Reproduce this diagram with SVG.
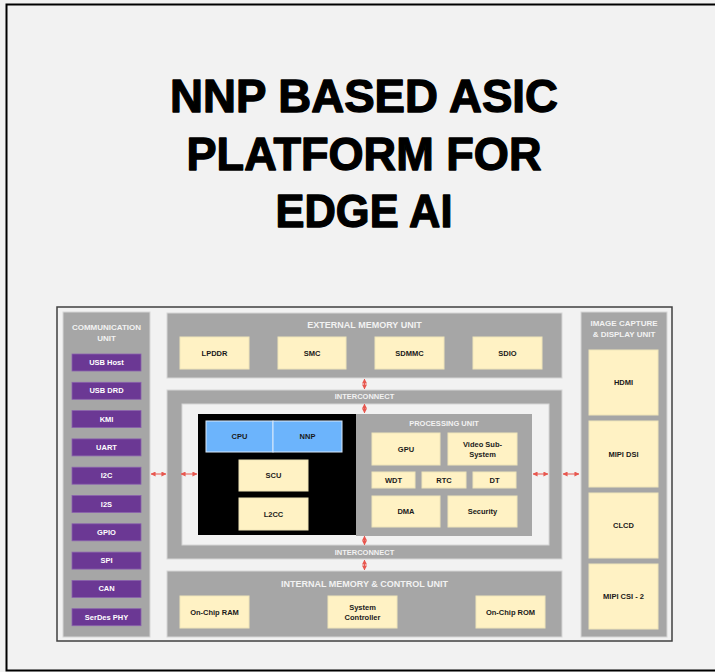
<svg xmlns="http://www.w3.org/2000/svg" width="715" height="672" viewBox="0 0 715 672">
<defs>
<marker id="ah" viewBox="0 0 6 6" refX="5.5" refY="3" markerWidth="5" markerHeight="5" orient="auto-start-reverse" markerUnits="userSpaceOnUse">
<path d="M0,0 L6,3 L0,6 Z" fill="#e8574f"/>
</marker>
</defs>
<style>
text{font-family:"Liberation Sans",Arial,sans-serif;font-weight:bold;text-anchor:middle;dominant-baseline:central}
.title{font-size:46px;fill:#000;stroke:#000;stroke-width:1.3;stroke-linejoin:round;dominant-baseline:alphabetic}
.panel{fill:#a6a6a6;stroke:#d6d6d6;stroke-width:1}
.lite{fill:#f2f2f2;stroke:#d6d6d6;stroke-width:1}
.ylw{fill:#fff2c4;stroke:#efe5b9;stroke-width:1}
.blu{fill:#6cb4fc;stroke:#d9e9fb;stroke-width:1}
.pur{fill:#6b3894;stroke:#8a62ad;stroke-width:0.8}
.plab{font-size:7.5px;fill:#f2f2f2;font-weight:bold}
.slab{font-size:8px;fill:#f2f2f2;font-weight:bold}
.hlab{font-size:9px;fill:#f2f2f2}
.blab{font-size:7.5px;fill:#1a1a1a}
.wlab{font-size:7.5px;fill:#ffffff}
.arr{stroke:#e8574f;stroke-width:1;fill:none;marker-start:url(#ah);marker-end:url(#ah)}
</style>
<rect x="0" y="0" width="715" height="672" fill="#f2f2f2"/>
<rect x="6.5" y="4.5" width="720" height="666" fill="#f2f2f2" stroke="#000" stroke-width="2"/>
<g id="title">
<text class="title" x="364" y="112" textLength="388" lengthAdjust="spacingAndGlyphs">NNP BASED ASIC</text>
<text class="title" x="364" y="170" textLength="355" lengthAdjust="spacingAndGlyphs">PLATFORM FOR</text>
<text class="title" x="364" y="227" textLength="177" lengthAdjust="spacingAndGlyphs">EDGE AI</text>
</g>
<rect x="57" y="307" width="615" height="334" fill="#f2f2f2" stroke="#404040" stroke-width="1.5"/>

<g id="communication-unit">
<rect class="panel" x="63" y="312" width="87" height="325"/>
<text class="slab" x="106.5" y="327">COMMUNICATION</text>
<text class="slab" x="106.5" y="338">UNIT</text>
<g id="usb-host"><rect class="pur" x="72" y="354" width="69" height="17"/><text class="wlab" x="106.5" y="362.5">USB Host</text></g>
<g id="usb-drd"><rect class="pur" x="72" y="382.3" width="69" height="17"/><text class="wlab" x="106.5" y="390.8">USB DRD</text></g>
<g id="kmi"><rect class="pur" x="72" y="410.6" width="69" height="17"/><text class="wlab" x="106.5" y="419.1">KMI</text></g>
<g id="uart"><rect class="pur" x="72" y="438.9" width="69" height="17"/><text class="wlab" x="106.5" y="447.4">UART</text></g>
<g id="i2c"><rect class="pur" x="72" y="467.2" width="69" height="17"/><text class="wlab" x="106.5" y="475.7">I2C</text></g>
<g id="i2s"><rect class="pur" x="72" y="495.5" width="69" height="17"/><text class="wlab" x="106.5" y="504">I2S</text></g>
<g id="gpio"><rect class="pur" x="72" y="523.8" width="69" height="17"/><text class="wlab" x="106.5" y="532.3">GPIO</text></g>
<g id="spi"><rect class="pur" x="72" y="552.1" width="69" height="17"/><text class="wlab" x="106.5" y="560.6">SPI</text></g>
<g id="can"><rect class="pur" x="72" y="580.4" width="69" height="17"/><text class="wlab" x="106.5" y="588.9">CAN</text></g>
<g id="serdes-phy"><rect class="pur" x="72" y="608.7" width="69" height="17"/><text class="wlab" x="106.5" y="617.2">SerDes PHY</text></g>
</g>

<g id="external-memory-unit">
<rect class="panel" x="167" y="313" width="395" height="65"/>
<text class="hlab" x="364.5" y="325">EXTERNAL MEMORY UNIT</text>
<g id="lpddr"><rect class="ylw" x="180" y="337" width="69" height="32"/><text class="blab" x="214.5" y="353">LPDDR</text></g>
<g id="smc"><rect class="ylw" x="278" y="337" width="68" height="32"/><text class="blab" x="312" y="353">SMC</text></g>
<g id="sdmmc"><rect class="ylw" x="375" y="337" width="69" height="32"/><text class="blab" x="409.5" y="353">SDMMC</text></g>
<g id="sdio"><rect class="ylw" x="473" y="337" width="69" height="32"/><text class="blab" x="507.5" y="353">SDIO</text></g>
</g>

<g id="interconnect">
<rect class="panel" x="167" y="390" width="395" height="169"/>
<text class="plab" x="364.5" y="396.5">INTERCONNECT</text>
<text class="plab" x="364.5" y="552">INTERCONNECT</text>
<rect class="lite" x="182" y="404" width="367" height="141"/>
</g>

<g id="cpu-cluster">
<rect x="198" y="414" width="158" height="121" fill="#000"/>
<g id="cpu"><rect class="blu" x="206" y="421" width="67" height="31"/><text class="blab" x="239.5" y="436.5">CPU</text></g>
<g id="nnp"><rect class="blu" x="273" y="421" width="69" height="31"/><text class="blab" x="307.5" y="436.5">NNP</text></g>
<g id="scu"><rect class="ylw" x="239" y="460" width="69" height="31"/><text class="blab" x="273.5" y="475.5">SCU</text></g>
<g id="l2cc"><rect class="ylw" x="239" y="498" width="69" height="32"/><text class="blab" x="273.5" y="514">L2CC</text></g>
</g>

<g id="processing-unit">
<rect x="356" y="414" width="176" height="122" fill="#a6a6a6"/>
<text class="plab" x="444" y="423.5">PROCESSING UNIT</text>
<g id="gpu"><rect class="ylw" x="372" y="433" width="68" height="32"/><text class="blab" x="406" y="449">GPU</text></g>
<g id="video"><rect class="ylw" x="448" y="433" width="69" height="32"/><text class="blab" x="482.5" y="444">Video Sub-</text><text class="blab" x="482.5" y="454">System</text></g>
<g id="wdt"><rect class="ylw" x="372" y="472" width="43" height="16"/><text class="blab" x="393.5" y="480">WDT</text></g>
<g id="rtc"><rect class="ylw" x="422" y="472" width="44" height="16"/><text class="blab" x="444" y="480">RTC</text></g>
<g id="dt"><rect class="ylw" x="473" y="472" width="43" height="16"/><text class="blab" x="494.5" y="480">DT</text></g>
<g id="dma"><rect class="ylw" x="372" y="496" width="68" height="31"/><text class="blab" x="406" y="511.5">DMA</text></g>
<g id="security"><rect class="ylw" x="448" y="496" width="69" height="31"/><text class="blab" x="482.5" y="511.5">Security</text></g>
</g>

<g id="internal-memory-control-unit">
<rect class="panel" x="167" y="571" width="395" height="66"/>
<text class="hlab" x="364.5" y="584">INTERNAL MEMORY &amp; CONTROL UNIT</text>
<g id="on-chip-ram"><rect class="ylw" x="180" y="596" width="69" height="32"/><text class="blab" x="214.5" y="612">On-Chip RAM</text></g>
<g id="system-controller"><rect class="ylw" x="328" y="596" width="69" height="32"/><text class="blab" x="362.5" y="607">System</text><text class="blab" x="362.5" y="617.5">Controller</text></g>
<g id="on-chip-rom"><rect class="ylw" x="476" y="596" width="69" height="32"/><text class="blab" x="510.5" y="612">On-Chip ROM</text></g>
</g>

<g id="image-capture-display-unit">
<rect class="panel" x="581" y="312" width="86" height="325"/>
<text class="slab" x="624" y="323">IMAGE CAPTURE</text>
<text class="slab" x="624" y="334">&amp; DISPLAY UNIT</text>
<g id="hdmi"><rect class="ylw" x="589" y="350" width="69" height="65"/><text class="blab" x="623.5" y="382.5">HDMI</text></g>
<g id="mipi-dsi"><rect class="ylw" x="589" y="421" width="69" height="66"/><text class="blab" x="623.5" y="454">MIPI DSI</text></g>
<g id="clcd"><rect class="ylw" x="589" y="493" width="69" height="65"/><text class="blab" x="623.5" y="525">CLCD</text></g>
<g id="mipi-csi-2"><rect class="ylw" x="589" y="564" width="69" height="65"/><text class="blab" x="623.5" y="596.5">MIPI CSI - 2</text></g>
</g>

<g id="connectors">
<line class="arr" x1="151" y1="474" x2="166" y2="474"/>
<line class="arr" x1="181" y1="474" x2="197" y2="474"/>
<line class="arr" x1="533" y1="474" x2="548" y2="474"/>
<line class="arr" x1="563" y1="474" x2="579" y2="474"/>
<line class="arr" x1="364.5" y1="379" x2="364.5" y2="389"/>
<line class="arr" x1="364.5" y1="404" x2="364.5" y2="413"/>
<line class="arr" x1="364.5" y1="536" x2="364.5" y2="545"/>
<line class="arr" x1="364.5" y1="560" x2="364.5" y2="570"/>
</g>
</svg>
